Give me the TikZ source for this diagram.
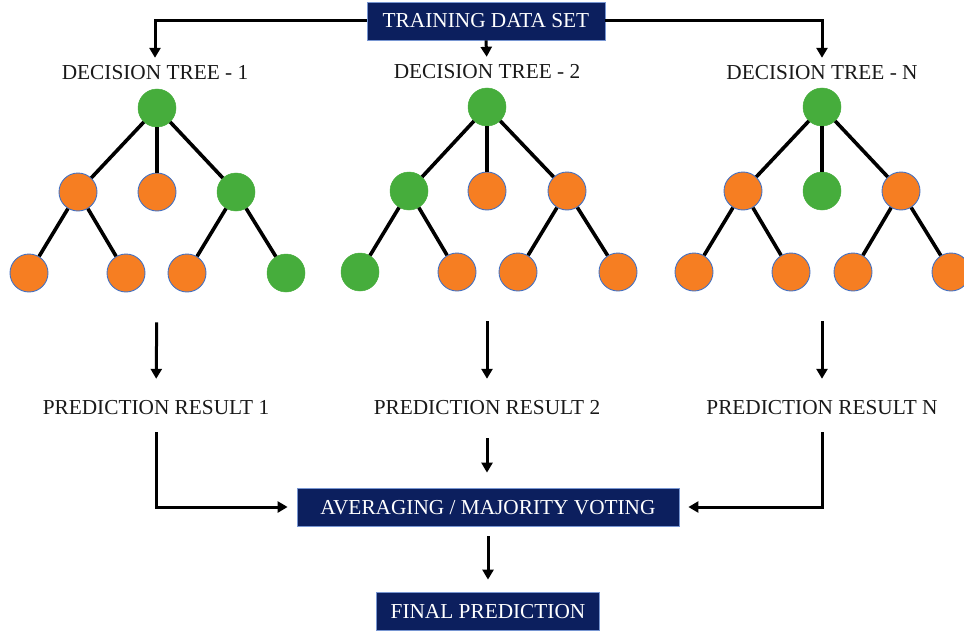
\documentclass[tikz,border=0pt]{standalone}
\usepackage{fontspec}
\setmainfont{Liberation Serif}
\usetikzlibrary{arrows.meta}
\definecolor{navy}{RGB}{12,31,94}
\definecolor{navyedge}{RGB}{120,150,210}
\definecolor{orng}{RGB}{246,126,34}
\definecolor{orngedge}{RGB}{68,114,196}
\definecolor{grn}{RGB}{70,173,60}
\tikzset{
  lbl/.style={font=\fontsize{21.3}{25}\selectfont, inner sep=0pt, text height=14pt, text depth=0pt, text=black!90},
  box/.style={fill=navy, draw=navyedge, line width=0.8pt, text=white, font=\fontsize{21.3}{25}\selectfont, inner sep=0pt, text height=14pt, text depth=0pt, minimum height=38pt},
  on/.style={circle, fill=orng, draw=orngedge, line width=0.9pt, minimum size=38pt, inner sep=0pt},
  gn/.style={circle, fill=grn, draw=grn, line width=0.5pt, minimum size=38pt, inner sep=0pt},
  edge/.style={line width=3.6pt, black},
  arr/.style={line width=3pt, black, -{Triangle[length=10pt,width=11pt]}},
}
\begin{document}
\begin{tikzpicture}[x=1pt,y=-1pt]
\useasboundingbox (0,0) rectangle (964,634);

% top box and labels
\node[box, minimum width=238pt] (train) at (486,21) {TRAINING DATA SET};
\node[lbl] (dt1) at (155,73) {DECISION TREE - 1};
\node[lbl] (dt2) at (487,71) {DECISION TREE - 2};
\node[lbl] (dtn) at (822,73) {DECISION TREE - N};
\draw[arr, shorten >=8pt] (train.west) -| (dt1.north);
\draw[arr, shorten >=7pt] (train.south) -- (dt2.north);
\draw[arr, shorten >=8pt] (train.east) -| (dtn.north);

% tree 1
\node[gn] (t1r) at (157,108) {};
\node[on] (t1a) at (78,192) {};
\node[on] (t1b) at (157,192) {};
\node[gn] (t1c) at (236,192) {};
\node[on] (t1aa) at (29,273) {};
\node[on] (t1ab) at (126,273) {};
\node[on] (t1ca) at (187,273) {};
\node[gn] (t1cb) at (286,273) {};
\draw[edge] (t1r) -- (t1a); \draw[edge] (t1r) -- (t1b); \draw[edge] (t1r) -- (t1c);
\draw[edge] (t1a) -- (t1aa); \draw[edge] (t1a) -- (t1ab);
\draw[edge] (t1c) -- (t1ca); \draw[edge] (t1c) -- (t1cb);

% tree 2
\node[gn] (t2r) at (487,107) {};
\node[gn] (t2a) at (409,191) {};
\node[on] (t2b) at (487,191) {};
\node[on] (t2c) at (567,191) {};
\node[gn] (t2aa) at (360,272) {};
\node[on] (t2ab) at (457,272) {};
\node[on] (t2ca) at (518,272) {};
\node[on] (t2cb) at (618,272) {};
\draw[edge] (t2r) -- (t2a); \draw[edge] (t2r) -- (t2b); \draw[edge] (t2r) -- (t2c);
\draw[edge] (t2a) -- (t2aa); \draw[edge] (t2a) -- (t2ab);
\draw[edge] (t2c) -- (t2ca); \draw[edge] (t2c) -- (t2cb);

% tree N
\node[gn] (tnr) at (822,107) {};
\node[on] (tna) at (743,191) {};
\node[gn] (tnb) at (822,191) {};
\node[on] (tnc) at (901,191) {};
\node[on] (tnaa) at (694,272) {};
\node[on] (tnab) at (791,272) {};
\node[on] (tnca) at (853,272) {};
\node[on] (tncb) at (951,272) {};
\draw[edge] (tnr) -- (tna); \draw[edge] (tnr) -- (tnb); \draw[edge] (tnr) -- (tnc);
\draw[edge] (tna) -- (tnaa); \draw[edge] (tna) -- (tnab);
\draw[edge] (tnc) -- (tnca); \draw[edge] (tnc) -- (tncb);

% prediction results
\node[lbl] (pr1) at (156,407) {PREDICTION RESULT 1};
\node[lbl] (pr2) at (487,407) {PREDICTION RESULT 2};
\node[lbl] (prn) at (822,407) {PREDICTION RESULT N};
\draw[arr, shorten <=30pt, shorten >=21pt] (t1r |- t1aa.south) -- (pr1.north);
\draw[arr, shorten <=30pt, shorten >=21pt] (t2r |- t2aa.south) -- (pr2.north);
\draw[arr, shorten <=30pt, shorten >=21pt] (tnr |- tnaa.south) -- (prn.north);

% aggregation
\node[box, minimum width=382pt] (avg) at (488,507) {AVERAGING / MAJORITY VOTING};
\node[box, minimum width=223pt] (fin) at (488,611) {FINAL PREDICTION};
\draw[arr, shorten <=18pt, shorten >=9pt] (pr1.south) |- (avg.west);
\draw[arr, shorten <=18pt, shorten >=9pt] (prn.south) |- (avg.east);
\draw[arr, shorten <=24pt, shorten >=15pt] (pr2.south) -- (pr2.south |- avg.north);
\draw[arr, shorten <=10pt, shorten >=12pt] (avg.south) -- (fin.north);
\end{tikzpicture}
\end{document}
